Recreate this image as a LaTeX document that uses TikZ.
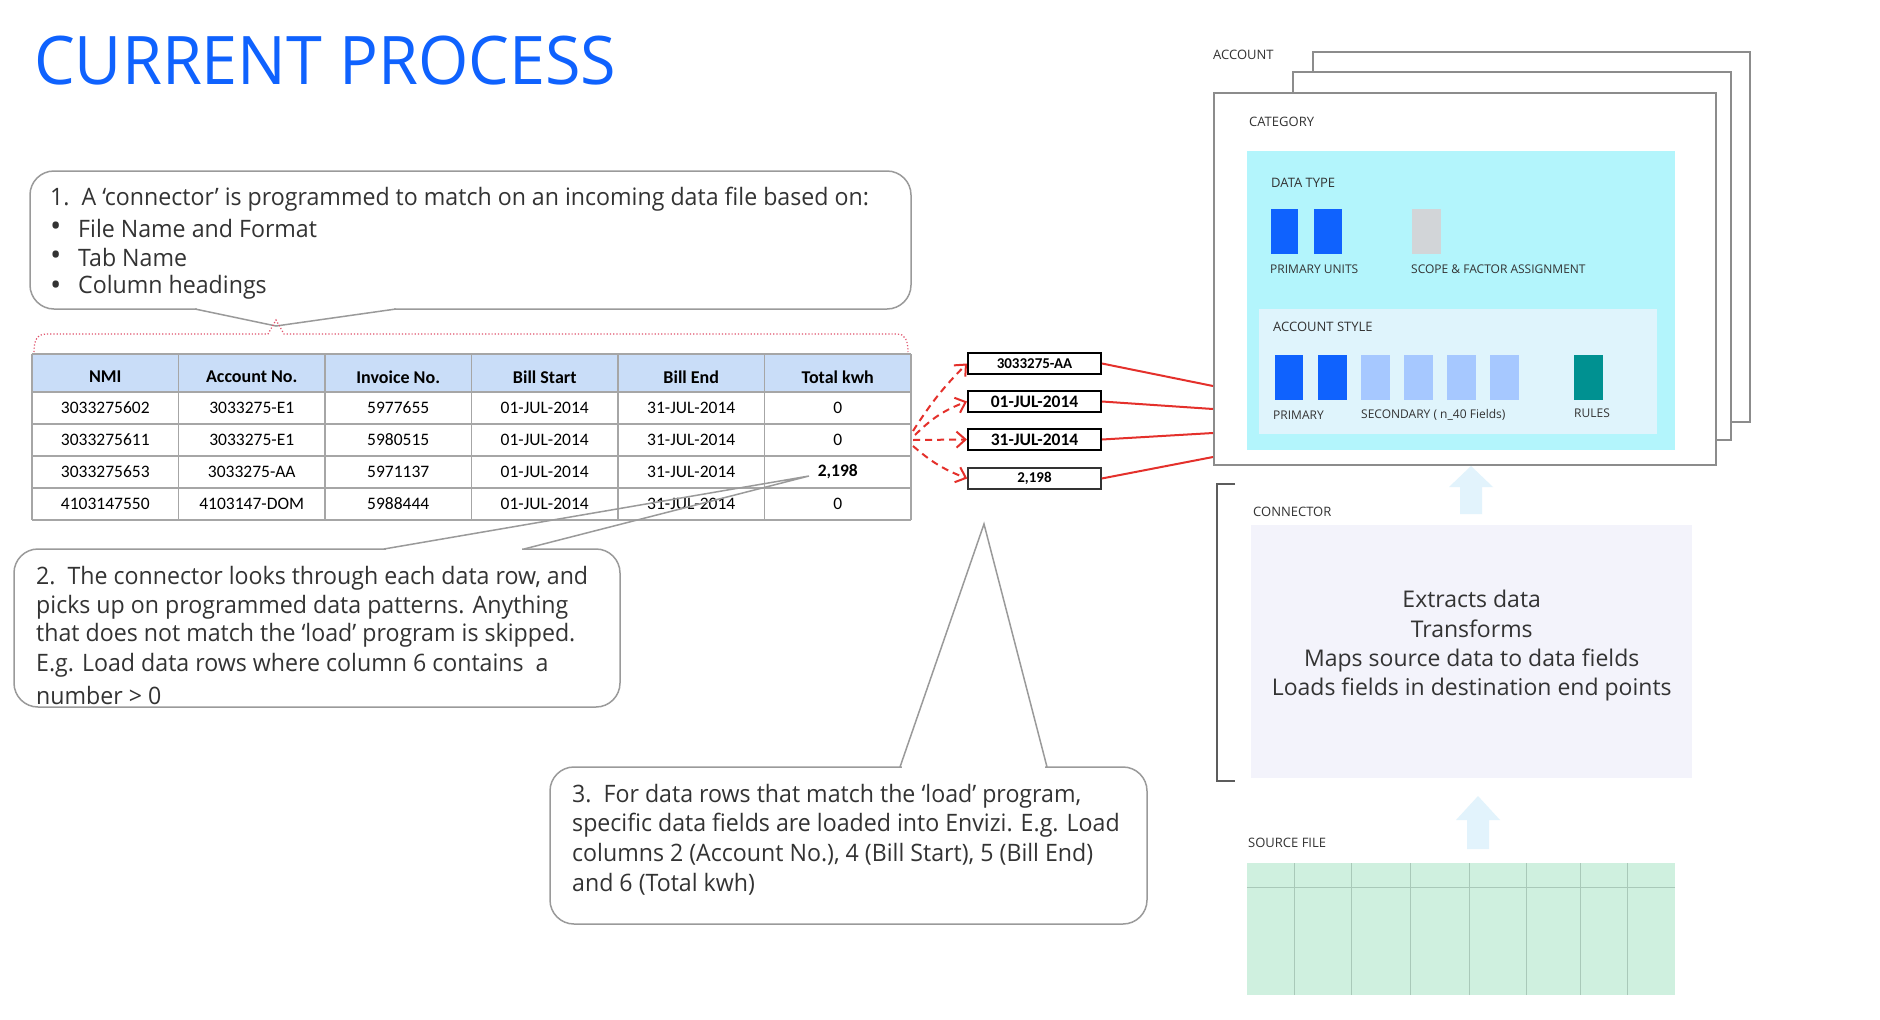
\documentclass[tikz,border=0pt]{standalone}
\usepackage{fontspec}
\setmainfont{Open Sans}
\newfontfamily\tablefont{Carlito}
\newfontfamily\calloutfont{Open Sans}[FakeStretch=0.965]
\newfontfamily\titlefont{Open Sans}[FakeStretch=0.965]
\usetikzlibrary{arrows.meta,calc}

\definecolor{ibmblue}{HTML}{0F62FE}
\definecolor{textgrey}{HTML}{333333}
\definecolor{calloutgrey}{HTML}{9A9A9A}
\definecolor{tablegrey}{HTML}{A6A6A6}
\definecolor{headerblue}{HTML}{C9DDF8}
\definecolor{fieldred}{HTML}{E4302B}
\definecolor{bracered}{HTML}{E0506A}
\definecolor{stackgrey}{HTML}{8C8C8C}
\definecolor{cyanbg}{HTML}{B3F5FC}
\definecolor{stylebg}{HTML}{DFF4FC}
\definecolor{barlight}{HTML}{A6C8FF}
\definecolor{barteal}{HTML}{009191}
\definecolor{bargrey}{HTML}{D2D5D8}
\definecolor{arrowblue}{HTML}{E2F3FC}
\definecolor{connbg}{HTML}{F3F3FB}
\definecolor{mint}{HTML}{CFF0DF}
\definecolor{gridline}{HTML}{A9C9B9}

\tikzset{
  callout/.style={draw=calloutgrey, line width=1.5pt, fill=white, rounded corners=24pt},
  tail/.style={draw=calloutgrey, line width=1.5pt},
  ctext/.style={anchor=west, inner sep=0, text=textgrey, font=\calloutfont\fontsize{24}{29}\selectfont},
  bullet/.style={anchor=west, inner sep=0, text=textgrey, font=\fontsize{30}{29}\selectfont},
  smalllabel/.style={anchor=west, inner sep=0, text=textgrey, font=\fontsize{13}{15}\selectfont},
  tinylabel/.style={anchor=west, inner sep=0, text=textgrey, font=\fontsize{12}{13}\selectfont},
  cell/.style={inner sep=0, text=black, font=\tablefont\fontsize{17.5}{20}\selectfont},
  headcell/.style={inner sep=0, text=black, font=\tablefont\bfseries\fontsize{18}{20}\selectfont},
  field/.style={draw=black, line width=2pt, fill=white, minimum width=133, minimum height=21, inner sep=0,
    font=\tablefont\bfseries\fontsize{17.5}{20}\selectfont},
  smallfield/.style={field, font=\tablefont\bfseries\fontsize{15}{18}\selectfont},
  redline/.style={draw=fieldred, line width=2pt},
  redarrow/.style={draw=fieldred, line width=2pt, dashed, dash pattern=on 7pt off 5pt,
    -{Straight Barb[length=9pt,width=16pt,line width=2pt]}},
  brace/.style={draw=bracered, line width=1.2pt, dotted},
  stack/.style={draw=stackgrey, line width=1.5pt, fill=white, inner sep=0}
}

\begin{document}
\begin{tikzpicture}[x=1pt,y=-1pt]
\useasboundingbox (0,0) rectangle (1880,1020);
\fill[white] (0,0) rectangle (1880,1020);

% heading
\node[anchor=base west, inner sep=0, text=ibmblue,
      font=\titlefont\fontsize{67}{67}\selectfont] (title) at (34,84) {CURRENT PROCESS};

% ---------- callout 1 ----------
\draw[callout] (30,171) rectangle (911,309);
\draw[white, line width=4pt] (197,309) -- (394,309);
\draw[tail] (195,309) -- (276,326) -- (396,309);
\node[ctext] (c1a) at (50,199) {1.\ \ A ‘connector’ is programmed to match on an incoming data file based on:};
\node[bullet] (c1b) at (50,229) {•};
\node[ctext] (c1c) at (78,228) {File Name and Format};
\node[bullet] (c1d) at (50,258) {•};
\node[ctext] (c1e) at (78,257) {Tab Name};
\node[bullet] (c1f) at (50,288) {•};
\node[ctext] (c1g) at (78,287) {Column headings};

% dotted brace over the table
\draw[brace] (34,352) .. controls (34,340) and (37,334) .. (47,334) -- (268,334) -- (276,320)
  -- (284,334) -- (897,334) .. controls (905,334) and (908,340) .. (908,352);

% ---------- table ----------
\fill[headerblue] (32,354) rectangle (911,392);
\foreach \yy in {354,392,424,456,488,520}
  \draw[tablegrey, line width=1.2pt] (32,\yy) -- (911,\yy);
\foreach \k in {0,...,6}
  \draw[tablegrey, line width=1.2pt] ({32+146.5*\k},354) -- ({32+146.5*\k},520);
\foreach \txt [count=\c] in {NMI, Account No., Invoice No., Bill Start, Bill End, Total kwh}
  \node[headcell] (h\c) at ({105.25+146.5*(\c-1)},377) {\txt};
\foreach \txt [count=\c] in {3033275602, 3033275-E1, 5977655, 01-JUL-2014, 31-JUL-2014, 0}
  \node[cell] (ra\c) at ({105.25+146.5*(\c-1)},408) {\txt};
\foreach \txt [count=\c] in {3033275611, 3033275-E1, 5980515, 01-JUL-2014, 31-JUL-2014, 0}
  \node[cell] (rb\c) at ({105.25+146.5*(\c-1)},440) {\txt};
\foreach \txt [count=\c] in {3033275653, 3033275-AA, 5971137, 01-JUL-2014, 31-JUL-2014, {\bfseries 2,198}}
  \node[cell] (rc\c) at ({105.25+146.5*(\c-1)},472) {\txt};
\foreach \txt [count=\c] in {4103147550, 4103147-DOM, 5988444, 01-JUL-2014, 31-JUL-2014, 0}
  \node[cell] (rd\c) at ({105.25+146.5*(\c-1)},504) {\txt};

% ---------- extracted fields ----------
\node[smallfield] (f1) at (1034.5,363.5) {3033275-AA};
\node[field] (f2) at (1034.5,401.5) {01-JUL-2014};
\node[field] (f3) at (1034.5,439.5) {31-JUL-2014};
\node[smallfield, line width=1.5pt, draw=black!80] (f4) at (1034.5,478.5) {2,198};

\coordinate (o1) at (913,431);
\coordinate (o2) at (915,435);
\coordinate (o3) at (913,440);
\coordinate (o4) at (913,446);
\draw[redarrow] (o1) to[bend left=6] (f1.west);
\draw[redarrow] (o2) to[bend left=12] (f2.west);
\draw[redarrow] (o3) -- (f3.west);
\draw[redarrow] (o4) to[bend right=10] (f4.west);

% ---------- account / category stack ----------
\draw[stack] (1313,52) rectangle (1750,422);
\draw[stack] (1293,72) rectangle (1731,440);
\node[stack, anchor=north west, minimum width=502, minimum height=372] (category) at (1213,92) {};
\node[smalllabel] (acc) at (1213,55) {ACCOUNT};
\node[smalllabel] (cat) at (1249,122) {CATEGORY};

\fill[cyanbg] (1247,151) rectangle (1675,450);
\node[smalllabel] (dt) at (1271,183) {DATA TYPE};
\fill[ibmblue] (1271,209) rectangle (1298,254);
\fill[ibmblue] (1314,209) rectangle (1342,254);
\fill[bargrey] (1412,209) rectangle (1441,254);
\node[tinylabel] (pu) at (1270,269) {PRIMARY UNITS};
\node[tinylabel] (sf) at (1411,269) {SCOPE \& FACTOR ASSIGNMENT};

\fill[stylebg] (1259,309) rectangle (1657,434);
\node[smalllabel] (as) at (1273,327) {ACCOUNT STYLE};
\fill[ibmblue] (1275,355) rectangle (1303,400);
\fill[ibmblue] (1318,355) rectangle (1347,400);
\foreach \xx in {1361,1404,1447,1490}
  \fill[barlight] (\xx,355) rectangle ({\xx+29},400);
\fill[barteal] (1574,355) rectangle (1603,400);
\node[tinylabel] (pr) at (1273,415) {PRIMARY};
\node[tinylabel] (sec) at (1361,415) {SECONDARY ( n\_40 Fields)};
\node[tinylabel] (ru) at (1574,413) {RULES};

% field links into the category
\coordinate (in1) at (1213,386);
\coordinate (in2) at (1213,409);
\coordinate (in3) at (1213,433);
\coordinate (in4) at (1213,457);
\draw[redline] (f1.east) -- (in1);
\draw[redline] (f2.east) -- (in2);
\draw[redline] (f3.east) -- (in3);
\draw[redline] (f4.east) -- (in4);

% upward block arrows
\fill[arrowblue] (1471,466) -- (1493,487) -- (1482,487) -- (1482,514) -- (1460,514)
  -- (1460,487) -- (1449,487) -- cycle;
\fill[arrowblue] (1478,796) -- (1500,820) -- (1489,820) -- (1489,849) -- (1467,849)
  -- (1467,820) -- (1456,820) -- cycle;

% ---------- connector ----------
\draw[textgrey!80, line width=1.5pt] (1235,484) -- (1217,484) -- (1217,781) -- (1235,781);
\node[smalllabel] (conn) at (1253,512) {CONNECTOR};
\node[fill=connbg, inner sep=0, anchor=north west, minimum width=441, minimum height=253] (connbox) at (1251,525) {};
\node[align=center, inner sep=0, text=textgrey, font=\fontsize{23}{29.2}\selectfont] (conntext) at (connbox.center) [yshift=6pt]
  {Extracts data\\Transforms\\Maps source data to data fields\\Loads fields in destination end points};

% ---------- source file ----------
\node[smalllabel] (src) at (1248,843) {SOURCE FILE};
\fill[mint] (1247,863) rectangle (1675,995);
\draw[gridline, line width=1pt] (1247,887) -- (1675,887);
\foreach \xx in {1294,1351,1410,1469,1526,1580,1627}
  \draw[gridline, line width=1pt] (\xx,863) -- (\xx,995);

% ---------- callout 2 ----------
\draw[callout] (14,549) rectangle (620,707);
\draw[white, line width=4pt] (386,549) -- (522,549);
\draw[tail] (384,549) -- (809,476) -- (524,549);
\node[ctext] (c2a) at (36,578) {2.\ \ The connector looks through each data row, and};
\node[ctext] (c2b) at (36,607) {picks up on programmed data patterns. Anything};
\node[ctext] (c2c) at (36,635) {that does not match the ‘load’ program is skipped.};
\node[ctext] (c2d) at (36,665) {E.g. Load data rows where column 6 contains\ \ a};
\node[ctext] (c2e) at (36,695) {number > 0};

% ---------- callout 3 ----------
\draw[callout] (550,767) rectangle (1147,924);
\draw[white, line width=4pt] (902,767) -- (1045,767);
\draw[tail] (900,767) -- (984,524) -- (1047,767);
\node[ctext] (c3a) at (572,796) {3.\ \ For data rows that match the ‘load’ program,};
\node[ctext] (c3b) at (572,825) {specific data fields are loaded into Envizi. E.g. Load};
\node[ctext] (c3c) at (572,854) {columns 2 (Account No.), 4 (Bill Start), 5 (Bill End)};
\node[ctext] (c3d) at (572,884) {and 6 (Total kwh)};
\end{tikzpicture}
\end{document}
